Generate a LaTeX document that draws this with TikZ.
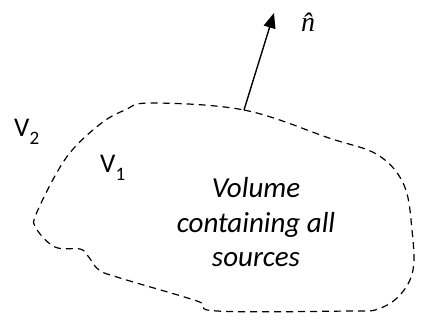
\documentclass[tikz,border=0pt]{standalone}
\usepackage{fontspec}
\setmainfont{Carlito}
\newfontfamily\mathlike{Liberation Serif}
\usetikzlibrary{arrows.meta}
\newcommand{\vsub}[1]{\raisebox{-7.5pt}{\fontsize{19}{19}\selectfont #1}}
\begin{document}
\begin{tikzpicture}[x=1pt,y=-1pt,
  boundary/.style={line width=1.2pt,dash pattern=on 7pt off 5pt},
  normal/.style={line width=1.4pt,-{Triangle[length=15pt,width=12pt]}},
  vlabel/.style={font=\fontsize{27}{30}\selectfont,inner sep=0pt,anchor=base west},
  body/.style={font=\fontsize{29}{34.5}\selectfont\itshape,align=center,inner sep=0pt,anchor=base}]
\useasboundingbox (0,0) rectangle (421,323);
\draw[boundary] plot[smooth cycle,tension=0.6] coordinates {
 (151,103) (244,110) (329,138) (378,155) (404,185) (412,230) (413,270)
 (400,295) (378,309) (349,311) (217,311) (197,301) (120,278) (99,270)
 (88,256) (80,249) (55,247) (36,228) (37,212) (66,158) (99,125) (125,110)};
\coordinate (base) at (244,110);
\coordinate (tip) at (274,13);
\draw[normal] (base) -- (tip);
\node[inner sep=0pt,anchor=base west] (nhat) at (301,32) {\fontsize{28}{30}\selectfont\mathlike\itshape \^{n}};
\node[vlabel] (v2) at (14,137) {V\vsub{2}};
\node[vlabel] (v1) at (100,173) {V\vsub{1}};
\node[body] (txt) at (256,267) {Volume\\containing all\\sources};
\end{tikzpicture}
\end{document}
